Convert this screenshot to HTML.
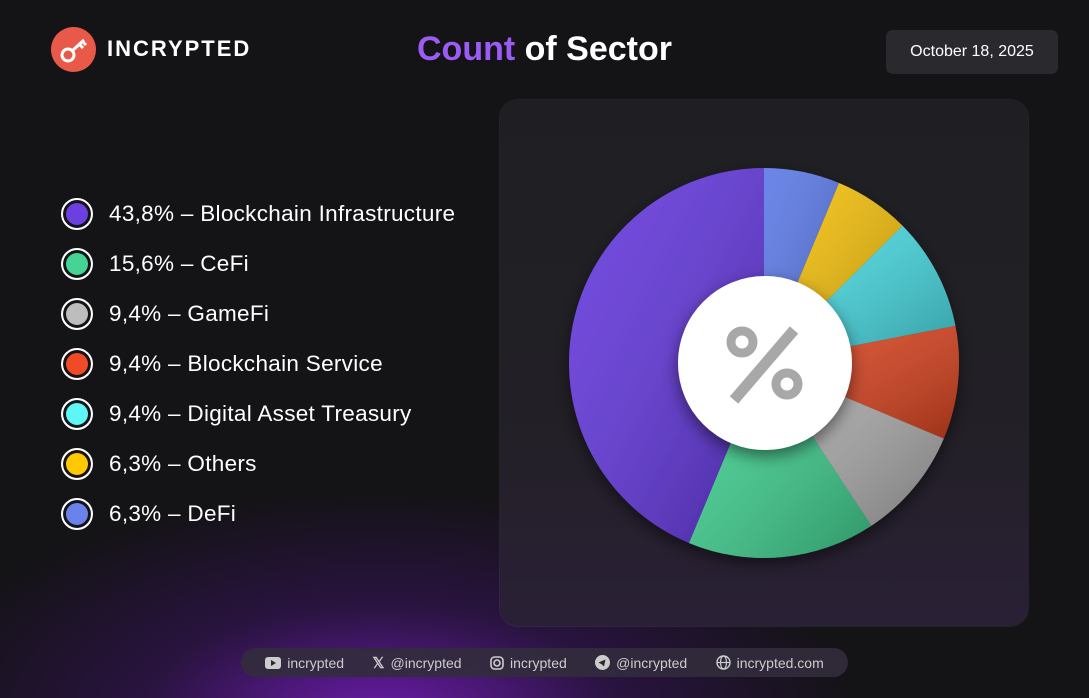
<!DOCTYPE html>
<html><head><meta charset="utf-8">
<style>
html,body{margin:0;padding:0}
body{width:1089px;height:698px;overflow:hidden;background:#141316;font-family:"Liberation Sans",sans-serif;position:relative}
.bg{position:absolute;inset:0;background:radial-gradient(ellipse 480px 230px at 380px 720px,rgba(130,30,210,.8),rgba(80,20,140,.35) 50%,rgba(20,19,22,0) 100%)}
.card{position:absolute;left:500px;top:100px;width:528px;height:526px;border-radius:18px;background:linear-gradient(180deg,#1f1f23 0%,#222026 60%,#2a2036 100%);box-shadow:0 0 0 1px rgba(255,255,255,.07)}
.title{position:absolute;left:0;width:1089px;top:30px;text-align:center;font-size:34px;font-weight:bold;color:#fff}
.title span{color:#9b5cf6}
.date{position:absolute;left:886px;top:30px;width:172px;height:44px;border-radius:7px;background:#2a2a2e;color:#fff;font-size:16px;line-height:44px;text-align:center}
.logo{position:absolute;left:51px;top:27px;width:45px;height:45px;border-radius:50%;background:#e8594a}
.brand{position:absolute;left:107px;top:36px;font-size:22px;font-weight:900;color:#fff;letter-spacing:2px}
.leg{position:absolute;left:61px;display:flex;align-items:center;color:#fff;font-size:22.5px;letter-spacing:.3px}
.dot{border-radius:50%;border:2px solid #fff;box-shadow:0 0 0 3px #141316 inset;margin-right:16px;box-sizing:border-box}
.footer{position:absolute;left:241px;top:648px;width:607px;height:29px;border-radius:15px;background:rgba(50,44,60,.9);color:#ccc;font-size:14px;display:flex;align-items:center;justify-content:space-around;padding:0 10px;box-sizing:border-box}
.footer span{display:flex;align-items:center;gap:6px}
</style></head><body>
<div class="bg"></div>
<div class="logo">
<svg width="45" height="45"><circle cx="17" cy="28" r="6" fill="none" stroke="#fff" stroke-width="3"/><line x1="21" y1="24" x2="33" y2="13" stroke="#fff" stroke-width="3"/><line x1="28" y1="17" x2="32" y2="21" stroke="#fff" stroke-width="3"/><line x1="31" y1="14" x2="35" y2="18" stroke="#fff" stroke-width="3"/></svg></div>
<div class="brand">INCRYPTED</div>
<div class="title"><span>Count</span> of Sector</div>
<div class="date">October 18, 2025</div>
<div id="legend"></div>
<div class="card"></div>
<svg id="pie" width="1089" height="698" style="position:absolute;left:0;top:0">
<defs><filter id="sh" x="-30%" y="-30%" width="160%" height="160%"><feDropShadow dx="0" dy="6" stdDeviation="8" flood-color="#000" flood-opacity=".5"/></filter>
<linearGradient id="shade" x1="0" y1="0" x2="1" y2="1"><stop offset="0" stop-color="#fff" stop-opacity=".1"/><stop offset="1" stop-color="#000" stop-opacity=".28"/></linearGradient></defs>
<g id="slices" filter="url(#sh)"></g>
<circle cx="765" cy="363" r="87" fill="#fff" filter="url(#sh)"/>
<g fill="none" stroke="#a8a8a8" stroke-width="9">
<circle cx="742" cy="342" r="11"/><circle cx="787" cy="384" r="11"/><line x1="794" y1="330" x2="734" y2="400" stroke-width="11"/></g>
</svg>
<div class="footer">
<span><svg width="16" height="12"><rect width="16" height="12" rx="3" fill="#ccc"/><path d="M6 3l5 3-5 3z" fill="#2a2630"/></svg>incrypted</span>
<span><b style="font-size:15px">𝕏</b>@incrypted</span>
<span><svg width="14" height="14"><rect x="1" y="1" width="12" height="12" rx="3.5" fill="none" stroke="#ccc" stroke-width="1.6"/><circle cx="7" cy="7" r="3" fill="none" stroke="#ccc" stroke-width="1.6"/></svg>incrypted</span>
<span><svg width="15" height="15"><circle cx="7.5" cy="7.5" r="7.5" fill="#ccc"/><path d="M3.5 7.5l7-3-1.5 7-2-2z" fill="#2a2630"/></svg>@incrypted</span>
<span><svg width="15" height="15"><circle cx="7.5" cy="7.5" r="6.5" fill="none" stroke="#ccc" stroke-width="1.4"/><ellipse cx="7.5" cy="7.5" rx="3" ry="6.5" fill="none" stroke="#ccc" stroke-width="1.2"/><line x1="1" y1="7.5" x2="14" y2="7.5" stroke="#ccc" stroke-width="1.2"/></svg>incrypted.com</span>
</div>
<script>
const categories=["DeFi","Others","Digital Asset Treasury","Blockchain Service","GameFi","CeFi","Blockchain Infrastructure"];
const values=[6.3,6.3,9.4,9.4,9.4,15.6,43.8];
const colors=["#5a78e6","#f4bf0a","#45d6de","#d8431f","#a9a9a9","#3fce8e","#6236dc"];
const legendOrder=[6,5,4,3,2,1,0];
const legendColors=["#6b3fe0","#45d493","#bdbdbd","#f04a26","#5ef6f6","#ffc800","#6a82ec"];
const cx=764,cy=363,R=195;
const total=values.reduce((a,b)=>a+b,0);
const g=document.getElementById('slices');
let a0=0;
values.forEach((v,i)=>{
  const a1=a0+v/total*Math.PI*2;
  const p=(a)=>[cx+R*Math.sin(a),cy-R*Math.cos(a)];
  const [x0,y0]=p(a0),[x1,y1]=p(a1);
  const d=`M${cx},${cy}L${x0},${y0}A${R},${R} 0 ${a1-a0>Math.PI?1:0} 1 ${x1},${y1}Z`;
  const path=document.createElementNS('http://www.w3.org/2000/svg','path');
  path.setAttribute('d',d);path.setAttribute('fill',colors[i]);
  
  
  g.appendChild(path);
  const sh=document.createElementNS('http://www.w3.org/2000/svg','path');
  sh.setAttribute('d',d);sh.setAttribute('fill','url(#shade)');
  
  
  g.appendChild(sh);
  a0=a1;
});
const leg=document.getElementById('legend');
legendOrder.forEach((ci,k)=>{
  const row=document.createElement('div');
  row.className='leg';row.style.top=(214+k*50-16)+'px';
  
  
  const dot=document.createElement('div');dot.className='dot';
  dot.style.width='32px';dot.style.height='32px';dot.style.background=legendColors[k];
  
  
  const t=document.createElement('span');
  t.textContent=values[ci].toFixed(1).replace('.',',')+'% – '+categories[ci];
  
  
  row.appendChild(dot);row.appendChild(t);leg.appendChild(row);
});
</script>
</body></html>
